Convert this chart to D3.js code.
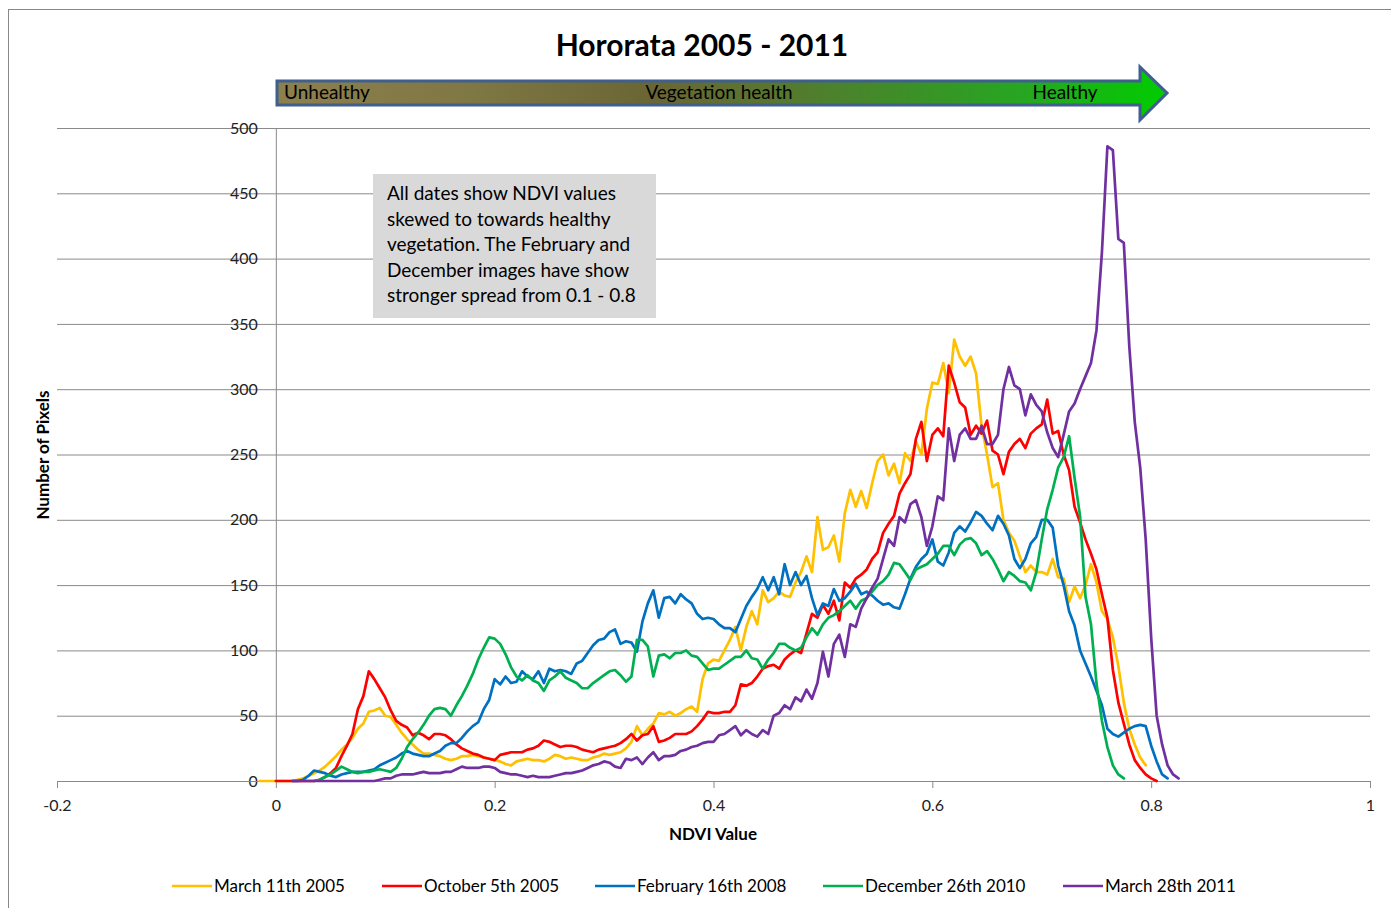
<!DOCTYPE html>
<html>
<head>
<meta charset="utf-8">
<script src="https://cdnjs.cloudflare.com/ajax/libs/d3/7.8.5/d3.min.js"></script>
<style>
  html, body { margin: 0; padding: 0; background: #fff; }
  svg { display: block; font-family: Lato, "Open Sans", sans-serif; }
</style>
</head>
<body>
<svg id="chart" width="1391" height="908"></svg>
<script>
// ---------------- DATA ----------------
const ndviStart = -0.015;
const ndviStep = 0.005;

const seriesNames = ["March 11th 2005", "October 5th 2005", "February 16th 2008", "December 26th 2010", "March 28th 2011"];
const seriesColors = ["#FFC000", "#FF0000", "#0070C0", "#00B050", "#7030A0"];

const march2005 = [
  0,0,0,0,0,0,0,1,2,4,
  6,8,11,15,19,24,28,33,40,44,
  53,54,56,50,49,43,37,32,28,24,
  21,21,20,19,17,16,17,19,19,20,
  19,18,17,16,15,13,12,15,16,17,
  16,16,15,17,20,19,17,18,17,16,
  16,18,19,21,20,21,22,25,30,42,
  35,40,44,52,51,53,50,52,55,57,
  53,78,90,93,92,100,108,118,100,118,
  130,120,146,137,140,145,142,141,152,160,
  172,160,202,177,179,188,168,205,223,210,
  222,209,228,245,250,234,243,228,251,245,
  260,250,285,305,304,320,297,338,325,318,
  325,312,272,250,225,228,200,190,184,172,
  160,165,160,160,158,170,156,155,137,149,
  140,150,166,152,130,124,110,88,60,40,
  28,18,12,null,null,null,null,null,null,null
];
const october2005 = [
  null,null,null,0,0,0,0,0,0,0,
  0,1,3,6,10,19,27,36,55,65,
  84,78,71,64,54,46,43,41,35,37,
  35,32,36,36,35,32,28,25,23,21,
  20,18,17,16,20,21,22,22,22,24,
  25,27,31,30,28,26,27,27,26,24,
  23,22,24,25,26,27,29,32,36,31,
  35,36,42,30,31,33,36,36,36,38,
  42,47,53,52,52,53,53,58,74,73,
  75,80,86,88,89,86,93,97,100,98,
  113,128,125,135,128,138,123,152,148,155,
  158,162,170,175,190,197,203,220,228,235,
  262,275,245,265,270,264,318,305,290,286,
  265,272,266,276,253,250,235,252,258,262,
  255,266,270,273,292,266,268,250,238,210,
  198,185,174,162,143,125,85,60,44,28,
  16,10,5,2,0,null,null,null,null,null
];
const february2008 = [
  null,null,null,null,null,null,0,0,1,4,
  8,7,6,4,3,5,6,7,7,7,
  8,9,12,14,16,18,21,23,21,20,
  19,19,21,23,27,29,29,33,38,42,
  45,55,62,78,74,80,75,76,84,80,
  78,84,75,86,84,85,84,82,90,92,
  98,104,108,109,114,116,105,107,106,99,
  122,136,146,125,140,141,136,143,139,136,
  128,124,125,124,120,117,117,114,124,134,
  141,147,156,146,156,143,166,150,160,150,
  157,140,127,136,134,147,138,140,145,151,
  143,145,142,138,135,136,133,132,143,155,
  164,170,174,185,168,165,175,190,195,191,
  198,206,203,197,192,203,197,188,170,163,
  170,182,187,200,200,194,165,150,130,119,
  100,90,80,69,58,40,36,34,37,40,
  42,43,42,27,15,5,2,null,null,null
];
const december2010 = [
  null,null,null,null,null,null,null,null,null,null,
  0,1,3,5,8,11,9,7,6,7,
  7,8,9,8,7,10,17,26,32,37,
  43,50,55,56,55,50,58,65,73,82,
  93,102,110,109,105,97,87,80,77,81,
  77,75,69,77,80,84,79,77,75,71,
  71,75,78,81,84,85,81,76,80,108,
  108,103,80,96,97,94,98,98,100,96,
  95,90,85,86,86,89,92,95,95,100,
  94,93,86,93,98,105,105,102,100,102,
  110,117,112,120,125,127,130,134,138,132,
  138,140,145,150,153,158,167,166,160,154,
  162,164,166,170,174,180,180,173,181,185,
  186,182,173,176,170,162,153,160,157,153,
  152,146,160,185,208,223,240,248,264,232,
  203,141,120,75,46,26,12,5,2,null,
  null,null,null,null,null,null,null,null,null,null
];
const march2011 = [
  null,null,null,null,null,null,0,0,0,0,
  0,0,0,0,0,0,0,0,0,0,
  0,0,1,2,2,4,5,5,5,6,
  7,6,6,6,7,7,9,11,10,10,
  10,11,11,10,7,6,5,5,4,3,
  4,3,3,3,4,5,6,6,7,8,
  10,12,13,15,14,11,10,17,16,18,
  13,18,22,16,19,19,20,23,24,26,
  27,29,30,30,35,36,39,42,35,39,
  36,34,39,36,50,52,58,55,64,61,
  70,63,75,99,80,105,112,95,120,118,
  132,140,148,155,170,185,180,202,198,212,
  215,202,180,195,218,215,270,245,265,270,
  262,262,272,258,258,265,300,317,303,300,
  280,296,288,283,267,255,248,265,283,289,
  300,310,320,345,405,486,483,415,412,333,
  275,240,185,110,50,28,12,5,2,null
];

const seriesValues = [march2005, october2005, february2008, december2010, march2011];

const xTickValues = [-0.2, 0, 0.2, 0.4, 0.6, 0.8, 1];
const xTickLabels = ["-0.2", "0", "0.2", "0.4", "0.6", "0.8", "1"];
const yTickValues = [0, 50, 100, 150, 200, 250, 300, 350, 400, 450, 500];

const titleText = "Hororata 2005 - 2011";
const xTitle = "NDVI Value";
const yTitle = "Number of Pixels";
const noteLines = [
  "All dates show NDVI values",
  "skewed to towards healthy",
  "vegetation. The February and",
  "December images have show",
  "stronger spread from 0.1 - 0.8"
];
const arrowLabels = ["Unhealthy", "Vegetation health", "Healthy"];

// ---------------- DRAW ----------------
const svg = d3.select("#chart");
const x = d3.scaleLinear().domain([-0.2, 1]).range([57, 1370]);
const y = d3.scaleLinear().domain([0, 500]).range([781, 128]);

// outer frame
svg.append("rect").attr("x", 8.5).attr("y", 9.5).attr("width", 1400).attr("height", 1000)
  .attr("fill", "none").attr("stroke", "#888").attr("stroke-width", 1);

// title
svg.append("text").attr("x", 702).attr("y", 56).attr("text-anchor", "middle")
  .attr("font-size", 30).attr("font-weight", "bold").attr("fill", "#000").text(titleText);

// gradient arrow
const defs = svg.append("defs");
const grad = defs.append("linearGradient").attr("id", "healthGrad")
  .attr("gradientUnits", "userSpaceOnUse").attr("x1", 277).attr("x2", 1167).attr("y1", 0).attr("y2", 0);
[[0, "#8c804e"], [0.22, "#7f7744"], [0.42, "#6a6634"], [0.55, "#5a7530"], [0.7, "#3e8e28"], [0.85, "#25a820"], [1, "#00cc00"]]
  .forEach(([o, c]) => grad.append("stop").attr("offset", o).attr("stop-color", c));
const ap = d3.path();
ap.moveTo(277, 81); ap.lineTo(1140, 81); ap.lineTo(1140, 67); ap.lineTo(1167, 93);
ap.lineTo(1140, 120); ap.lineTo(1140, 105); ap.lineTo(277, 105); ap.closePath();
svg.append("path").attr("d", ap.toString()).attr("fill", "url(#healthGrad)")
  .attr("stroke", "#3f5f8f").attr("stroke-width", 3).attr("stroke-linejoin", "miter");
const arrowX = [284, 719, 1065];
const arrowAnchor = ["start", "middle", "middle"];
arrowLabels.forEach((t, i) => svg.append("text").attr("x", arrowX[i]).attr("y", 99)
  .attr("text-anchor", arrowAnchor[i]).attr("font-size", 19).attr("fill", "#000").text(t));

// gridlines
const grid = svg.append("g").attr("transform", "translate(57,0)")
  .call(d3.axisRight(y).tickValues(yTickValues).tickSize(1313).tickFormat(""));
grid.select(".domain").remove();
grid.selectAll("line").attr("stroke", "#8a8a8a").attr("stroke-width", 1);

// y axis (at x = 0)
const yAxis = svg.append("g").attr("transform", `translate(${x(0)},0)`)
  .call(d3.axisLeft(y).tickValues(yTickValues).tickSize(0).tickPadding(18));
yAxis.select(".domain").attr("stroke", "#8a8a8a");
yAxis.selectAll("text").attr("font-size", 16).attr("fill", "#222").attr("font-family", "Lato, sans-serif");

// x axis
const xAxis = svg.append("g").attr("transform", `translate(0,${y(0)})`)
  .call(d3.axisBottom(x).tickValues(xTickValues).tickSize(7).tickPadding(12)
    .tickFormat((d, i) => xTickLabels[i]));
xAxis.select(".domain").attr("stroke", "#8a8a8a");
xAxis.selectAll("line").attr("stroke", "#8a8a8a");
xAxis.selectAll("text").attr("font-size", 16).attr("fill", "#222").attr("font-family", "Lato, sans-serif");

// axis titles
svg.append("text").attr("x", 713).attr("y", 840).attr("text-anchor", "middle")
  .attr("font-size", 17).attr("font-weight", "bold").text(xTitle);
svg.append("text").attr("transform", "translate(49,455) rotate(-90)").attr("text-anchor", "middle")
  .attr("font-size", 17).attr("font-weight", "bold").text(yTitle);

// annotation box
svg.append("rect").attr("x", 373).attr("y", 174).attr("width", 283).attr("height", 144).attr("fill", "#d9d9d9");
noteLines.forEach((t, i) => svg.append("text").attr("x", 387).attr("y", 200 + i * 25.5)
  .attr("font-size", 19).attr("fill", "#000").text(t));

// series lines
const line = d3.line()
  .defined(d => d.v !== null && d.v !== undefined)
  .x(d => x(d.n)).y(d => y(d.v));
seriesValues.forEach((vals, si) => {
  const pts = vals.map((v, i) => ({ n: ndviStart + i * ndviStep, v: v }));
  svg.append("path").datum(pts).attr("d", line)
    .attr("fill", "none").attr("stroke", seriesColors[si]).attr("stroke-width", 2.7)
    .attr("stroke-linejoin", "round").attr("stroke-linecap", "round");
});

// legend
const legX = [172, 382, 595, 823, 1063];
seriesNames.forEach((name, i) => {
  const g = svg.append("g");
  g.append("line").attr("x1", legX[i]).attr("x2", legX[i] + 40).attr("y1", 886).attr("y2", 886)
    .attr("stroke", seriesColors[i]).attr("stroke-width", 2.7);
  g.append("text").attr("x", legX[i] + 42).attr("y", 892).attr("font-size", 17).attr("fill", "#000").text(name);
});
</script>
</body>
</html>
